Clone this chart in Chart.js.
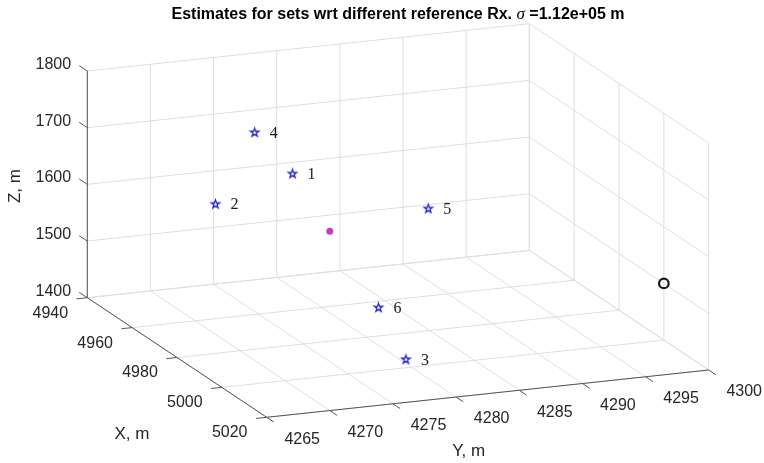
<!DOCTYPE html>
<html>
<head>
<meta charset="utf-8">
<script src="https://cdn.jsdelivr.net/npm/chart.js@4.4.0/dist/chart.umd.min.js"></script>
<style>
  html, body { margin: 0; padding: 0; background: #fff; }
  #wrap { width: 764px; height: 463px; }
</style>
</head>
<body>
<div id="wrap"><canvas id="myChart" width="764" height="463"></canvas></div>
<script>
// Axis ticks (metres)
const xTicks = [4940, 4960, 4980, 5000, 5020];
const yTicks = [4265, 4270, 4275, 4280, 4285, 4290, 4295, 4300];
const zTicks = [1400, 1500, 1600, 1700, 1800];

// Estimates, one per reference set
const setNames = ['1', '2', '3', '4', '5', '6'];
const estX = [4960, 4960, 5010, 4960, 4980, 5000];
const estY = [4277.7, 4271.6, 4277.8, 4274.7, 4284.9, 4277.4];
const estZ = [1641, 1602, 1445, 1721, 1615, 1511];

// Mean of the estimates
const meanX = [4980];
const meanY = [4277.1];
const meanZ = [1594];

// Receiver position
const rxX = [5000];
const rxY = [4300];
const rxZ = [1500];

// ---- 3D view (orthographic), screen vectors spanning each full axis range ----
const view = {
  origin: [87.3, 297.7],
  ex: [179.4, 119.6],
  ey: [442, -47.3],
  ez: [0, -226.7]
};

const first = a => a[0];
const last = a => a[a.length - 1];

function project(x, y, z) {
  const fx = (x - first(xTicks)) / (last(xTicks) - first(xTicks));
  const fy = (y - first(yTicks)) / (last(yTicks) - first(yTicks));
  const fz = (z - first(zTicks)) / (last(zTicks) - first(zTicks));
  return {
    x: view.origin[0] + fx * view.ex[0] + fy * view.ey[0] + fz * view.ez[0],
    y: view.origin[1] + fx * view.ex[1] + fy * view.ey[1] + fz * view.ez[1]
  };
}

const GRID = '#dedede';
const AXIS = '#555555';
const TEXT = '#262626';

function seg(p, q, color, order) {
  return {
    data: [project(...p), project(...q)],
    showLine: true,
    borderColor: color,
    borderWidth: 1,
    pointRadius: 0,
    order: order
  };
}

const datasets = [];
const x0 = first(xTicks), x1 = last(xTicks);
const y0 = first(yTicks), y1 = last(yTicks);
const z0 = first(zTicks), z1 = last(zTicks);

// back wall X = x0
yTicks.forEach(y => datasets.push(seg([x0, y, z0], [x0, y, z1], GRID, 5)));
zTicks.forEach(z => datasets.push(seg([x0, y0, z], [x0, y1, z], GRID, 5)));
// side wall Y = y1
xTicks.forEach(x => datasets.push(seg([x, y1, z0], [x, y1, z1], GRID, 5)));
zTicks.forEach(z => datasets.push(seg([x0, y1, z], [x1, y1, z], GRID, 5)));
// floor Z = z0
xTicks.forEach(x => datasets.push(seg([x, y0, z0], [x, y1, z0], GRID, 5)));
yTicks.forEach(y => datasets.push(seg([x0, y, z0], [x1, y, z0], GRID, 5)));

// axis lines
datasets.push(seg([x0, y0, z0], [x0, y0, z1], AXIS, 4));
datasets.push(seg([x0, y0, z0], [x1, y0, z0], AXIS, 4));
datasets.push(seg([x1, y0, z0], [x1, y1, z0], AXIS, 4));

// tick marks
zTicks.forEach(z => datasets.push(seg([x0, y0, z], [x0 - 3.6, y0, z], AXIS, 4)));
xTicks.forEach(x => datasets.push(seg([x, y0, z0], [x, y0 - 0.85, z0], AXIS, 4)));
yTicks.forEach(y => datasets.push(seg([x1, y, z0], [x1 + 3.2, y, z0], AXIS, 4)));

// pentagram marker
function pentagram(color) {
  const c = document.createElement('canvas');
  c.width = 13; c.height = 13;
  const g = c.getContext('2d');
  const R = 4.4, r = R * 0.382;
  g.beginPath();
  for (let i = 0; i < 10; i++) {
    const rad = i % 2 === 0 ? R : r;
    const a = -Math.PI / 2 + i * Math.PI / 5;
    const px = 6.5 + rad * Math.cos(a), py = 6.5 + rad * Math.sin(a);
    if (i === 0) g.moveTo(px, py); else g.lineTo(px, py);
  }
  g.closePath();
  g.strokeStyle = color;
  g.lineWidth = 1.3;
  g.stroke();
  return c;
}

const estPoints = estX.map((x, i) => project(x, estY[i], estZ[i]));

datasets.push({
  data: estPoints,
  pointStyle: pentagram('#2323c8'),
  order: 1
});
datasets.push({
  data: meanX.map((x, i) => project(x, meanY[i], meanZ[i])),
  pointStyle: 'circle',
  pointRadius: 3.5,
  backgroundColor: '#c83cbe',
  borderColor: '#c83cbe',
  borderWidth: 0,
  order: 1
});
datasets.push({
  data: rxX.map((x, i) => project(x, rxY[i], rxZ[i])),
  pointStyle: 'circle',
  pointRadius: 4.8,
  backgroundColor: 'rgba(0,0,0,0)',
  borderColor: '#1a1a1a',
  borderWidth: 2.2,
  order: 1
});

// text: tick labels, axis names, set numbers, title
const textPlugin = {
  id: 'text3d',
  afterDraw(chart) {
    const g = chart.ctx;
    const sx = chart.scales.x, sy = chart.scales.y;
    const px = p => ({ x: sx.getPixelForValue(p.x), y: sy.getPixelForValue(p.y) });
    g.save();
    g.fillStyle = TEXT;
    g.font = '16px "Liberation Sans", Arial, sans-serif';
    g.textAlign = 'center';
    g.textBaseline = 'middle';

    zTicks.forEach(z => {
      const p = px(project(x0, y0, z));
      g.fillText(String(z), p.x - 34, p.y - 6.5);
    });
    xTicks.forEach(x => {
      const p = px(project(x, y0, z0));
      g.fillText(String(x), p.x - 37, p.y + 15.5);
    });
    yTicks.forEach(y => {
      const p = px(project(x1, y, z0));
      g.fillText(String(y), p.x + 35.5, p.y + 22);
    });

    g.font = '17px "Liberation Sans", Arial, sans-serif';
    let p = px(project(x0, y0, (z0 + z1) / 2));
    g.save();
    g.translate(p.x - 72, p.y + 1.7);
    g.rotate(-Math.PI / 2);
    g.fillText('Z, m', 0, 0);
    g.restore();
    p = px(project((x0 + x1) / 2, y0, z0));
    g.fillText('X, m', p.x - 45, p.y + 77);
    p = px(project(x1, (y0 + y1) / 2, z0));
    g.fillText('Y, m', p.x - 19, p.y + 58);

    // set numbers beside each estimate
    g.fillStyle = '#1a1a1a';
    g.font = '16px "Liberation Serif", "Times New Roman", serif';
    g.textAlign = 'left';
    estPoints.forEach((e, i) => {
      const q = px(e);
      g.fillText(setNames[i], q.x + 15, q.y + 1);
    });

    // title with italic sigma
    const parts = [
      ['Estimates for sets wrt different reference Rx. ', 'bold 16px "Liberation Sans", Arial, sans-serif'],
      ['\u03c3', 'italic 17px "Liberation Serif", "Times New Roman", serif'],
      [' =1.12e+05 m', 'bold 16px "Liberation Sans", Arial, sans-serif']
    ];
    let total = 0;
    parts.forEach(([t, f]) => { g.font = f; total += g.measureText(t).width; });
    let tx = 398 - total / 2;
    g.fillStyle = '#000';
    g.textBaseline = 'alphabetic';
    parts.forEach(([t, f]) => {
      g.font = f;
      g.fillText(t, tx, 19);
      tx += g.measureText(t).width;
    });
    g.restore();
  }
};

const ctx = document.getElementById('myChart');

new Chart(ctx, {
  type: 'scatter',
  data: { datasets: datasets },
  options: {
    responsive: false,
    animation: false,
    events: [],
    layout: { padding: 0, autoPadding: false },
    scales: {
      x: { type: 'linear', min: 0, max: 764, display: false },
      y: { type: 'linear', min: 0, max: 463, reverse: true, display: false }
    },
    plugins: {
      legend: { display: false },
      title: { display: false },
      tooltip: { enabled: false }
    }
  },
  plugins: [textPlugin]
});
</script>
</body>
</html>
